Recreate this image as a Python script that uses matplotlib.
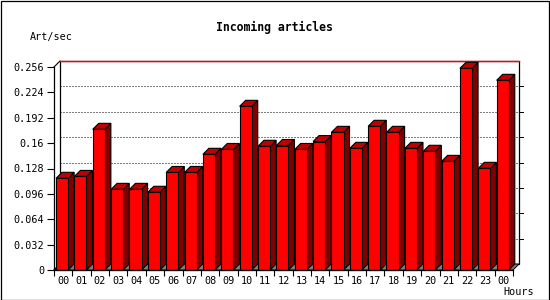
import matplotlib
matplotlib.use("Agg")
import matplotlib.pyplot as plt
from matplotlib.patches import Polygon, Rectangle

hours = ['00', '01', '02', '03', '04', '05', '06', '07', '08', '09', '10', '11',
         '12', '13', '14', '15', '16', '17', '18', '19', '20', '21', '22', '23', '00']
rate = [0.1156, 0.118, 0.1774, 0.1017, 0.1017, 0.098, 0.123, 0.123, 0.1459,
        0.152, 0.2064, 0.156, 0.157, 0.152, 0.162, 0.1736, 0.1534, 0.1812,
        0.1736, 0.1534, 0.1497, 0.137, 0.2543, 0.1282, 0.2392]
yticks = [0, 0.032, 0.064, 0.096, 0.128, 0.16, 0.192, 0.224, 0.256]
ylabels = ['0', '0.032', '0.064', '0.096', '0.128', '0.16', '0.192', '0.224', '0.256']

W, H = 550, 300
fig = plt.figure(figsize=(W / 100, H / 100), dpi=100)
fig.patch.set_facecolor('white')
# frame round the whole picture
fig.add_artist(Rectangle((0.5 / W, 0.5 / H), 1 - 1.5 / W, 1 - 1.5 / H, transform=fig.transFigure,
                         fill=False, ec='black', lw=0.9))

# front plane of the plot, in pixels
x0, x1, ytop, ybot = 54, 513, 67, 270
ax = fig.add_axes([x0 / W, (H - ybot) / H, (x1 - x0) / W, (ybot - ytop) / H])
n = len(rate)
ax.set_xlim(-0.5, n - 0.5)
ax.set_ylim(0, 0.256)
ax.set_facecolor('none')

# 3d depth: 6 px right and up, expressed in data units
dx = 6 / ((x1 - x0) / n)
dy = 6 / ((ybot - ytop) / 0.256)
top = 0.256

# back wall and floor
ax.add_patch(Rectangle((-0.5 + dx, dy), n, top, fc='white', ec='black', lw=0.9,
                       zorder=0, clip_on=False))
ax.plot([-0.5 + dx, n - 0.5 + dx], [top + dy, top + dy], color='red', lw=1.0,
        zorder=1, clip_on=False)
ax.add_patch(Polygon([(-0.5, 0), (n - 0.5, 0), (n - 0.5 + dx, dy), (-0.5 + dx, dy)],
                     closed=True, fc='#808080', ec='black', lw=0.7, zorder=0.5, clip_on=False))
for v in yticks[1:-1]:
    ax.plot([-0.5 + dx, n - 0.5 + dx], [v + dy, v + dy], color='black', lw=0.72,
            dashes=(1, 2), zorder=0.8, clip_on=False)
    ax.plot([n - 0.5 + dx, n - 0.5 + dx + 0.2], [v + dy, v + dy], color='black',
            lw=0.72, zorder=0.8, clip_on=False)
for v in [0, top]:
    ax.plot([-0.5, -0.5 + dx], [v, v + dy], color='black', lw=0.8, zorder=0.8, clip_on=False)

# bars: front face, side and top
bw = 0.66
for i, v in enumerate(rate):
    left = i - 0.39
    right = left + bw
    ax.add_patch(Polygon([(right, 0), (right + dx, dy), (right + dx, v + dy), (right, v)],
                         closed=True, fc='#800000', ec='black', lw=0.8, zorder=2, clip_on=False))
    ax.add_patch(Polygon([(left, v), (left + dx, v + dy), (right + dx, v + dy), (right, v)],
                         closed=True, fc='#c00000', ec='black', lw=0.8, zorder=2, clip_on=False))
ax.bar([i - 0.39 + bw / 2 for i in range(n)], rate, width=bw, color='#ff0000',
       edgecolor='black', linewidth=0.8, zorder=3, clip_on=False)

for s in ['top', 'right']:
    ax.spines[s].set_visible(False)
for s in ['left', 'bottom']:
    ax.spines[s].set_linewidth(0.9)
    ax.spines[s].set_zorder(4)

ax.set_yticks(yticks)
ax.set_yticklabels(ylabels, family='DejaVu Sans Mono', fontsize=7.3)
ax.tick_params(axis='y', length=5, width=0.8, pad=2)
ax.set_xticks([i - 0.5 for i in range(n + 1)])
ax.set_xticklabels([])
ax.set_xticks(range(n), minor=True)
ax.set_xticklabels(hours, minor=True, family='DejaVu Sans Mono', fontsize=7.3)
ax.tick_params(axis='x', which='major', length=4, width=0.8)
ax.tick_params(axis='x', which='minor', length=0, pad=4)

fig.text(274 / W, 1 - 27 / H, 'Incoming articles', ha='center', va='center',
         family='DejaVu Sans Mono', fontweight='bold', fontsize=8.3)
fig.text(30 / W, 1 - 37 / H, 'Art/sec', ha='left', va='center',
         family='DejaVu Sans Mono', fontsize=7.3)
fig.text(534 / W, 1 - 292 / H, 'Hours', ha='right', va='center',
         family='DejaVu Sans Mono', fontsize=7.3)

fig.savefig('out.png', dpi=100)
